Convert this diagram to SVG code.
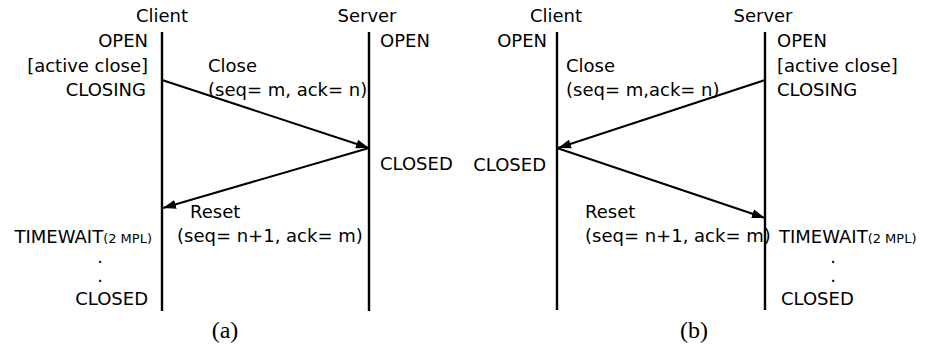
<svg xmlns="http://www.w3.org/2000/svg" width="932" height="348" viewBox="0 0 932 348">
  <style>
    .lbl { font-family: "DejaVu Sans", Verdana, sans-serif; font-size: 18px; fill: #000; }
    .end { text-anchor: end; }
    .mid { text-anchor: middle; }
    .small { font-size: 13px; }
    .cap { font-family: "Liberation Serif", "Times New Roman", serif; font-size: 24px; text-anchor: middle; fill: #000; }
    .life { stroke: #000; stroke-width: 2.4; fill: none; }
    .msg { stroke: #000; stroke-width: 2; fill: none; marker-end: url(#head); }
  </style>
  <defs>
    <marker id="head" markerUnits="userSpaceOnUse" markerWidth="14" markerHeight="10" refX="13" refY="5" orient="auto">
      <path d="M0,0.5 L13,5 L0,9.5 z" fill="#000"/>
    </marker>
  </defs>
  <rect width="932" height="348" fill="#fff"/>

  <!-- (a) client-initiated close -->
  <g id="a-client">
    <text class="lbl mid" x="162" y="22">Client</text>
    <line class="life" x1="162" y1="32" x2="162" y2="311"/>
    <text class="lbl end" x="148" y="47">OPEN</text>
    <text class="lbl end" x="148" y="72">[active close]</text>
    <text class="lbl end" x="146" y="96">CLOSING</text>
    <text class="lbl end" x="152" y="243">TIMEWAIT<tspan class="small">(2 MPL)</tspan></text>
    <text class="lbl mid" x="100" y="263">.</text>
    <text class="lbl mid" x="100" y="282">.</text>
    <text class="lbl end" x="148" y="305">CLOSED</text>
  </g>
  <g id="a-server">
    <text class="lbl mid" x="367" y="22">Server</text>
    <line class="life" x1="369" y1="32" x2="369" y2="311"/>
    <text class="lbl" x="380" y="47">OPEN</text>
    <text class="lbl" x="380" y="170">CLOSED</text>
  </g>
  <g id="a-caption">
    <text class="cap" x="225" y="338">(a)</text>
  </g>

  <!-- (b) server-initiated close -->
  <g id="b-client">
    <text class="lbl mid" x="556" y="22">Client</text>
    <line class="life" x1="557" y1="32" x2="557" y2="310"/>
    <text class="lbl end" x="547" y="47">OPEN</text>
    <text class="lbl end" x="546" y="171">CLOSED</text>
  </g>
  <g id="b-server">
    <text class="lbl mid" x="763" y="22">Server</text>
    <line class="life" x1="765" y1="32" x2="765" y2="310"/>
    <text class="lbl" x="777" y="47">OPEN</text>
    <text class="lbl" x="777" y="72">[active close]</text>
    <text class="lbl" x="777" y="96">CLOSING</text>
    <text class="lbl" x="779" y="243">TIMEWAIT<tspan class="small">(2 MPL)</tspan></text>
    <text class="lbl mid" x="833" y="263">.</text>
    <text class="lbl mid" x="833" y="282">.</text>
    <text class="lbl" x="781" y="305">CLOSED</text>
  </g>
  <g id="b-caption">
    <text class="cap" x="694" y="338">(b)</text>
  </g>

  <!-- messages -->
  <g id="connectors">
    <line class="msg" x1="162" y1="80" x2="369" y2="148"/>
    <line class="msg" x1="369" y1="148" x2="163" y2="208"/>
    <line class="msg" x1="765" y1="80" x2="558" y2="148"/>
    <line class="msg" x1="557" y1="148" x2="765" y2="218"/>
  </g>
  <g id="labels">
    <text class="lbl" x="208" y="72">Close</text>
    <text class="lbl" x="208" y="96">(seq= m, ack= n)</text>
    <text class="lbl" x="190" y="218">Reset</text>
    <text class="lbl" x="177" y="242">(seq= n+1, ack= m)</text>
    <text class="lbl" x="566" y="72">Close</text>
    <text class="lbl" x="566" y="96">(seq= m,ack= n)</text>
    <text class="lbl" x="585" y="218">Reset</text>
    <text class="lbl" x="585" y="242">(seq= n+1, ack= m)</text>
  </g>
</svg>
